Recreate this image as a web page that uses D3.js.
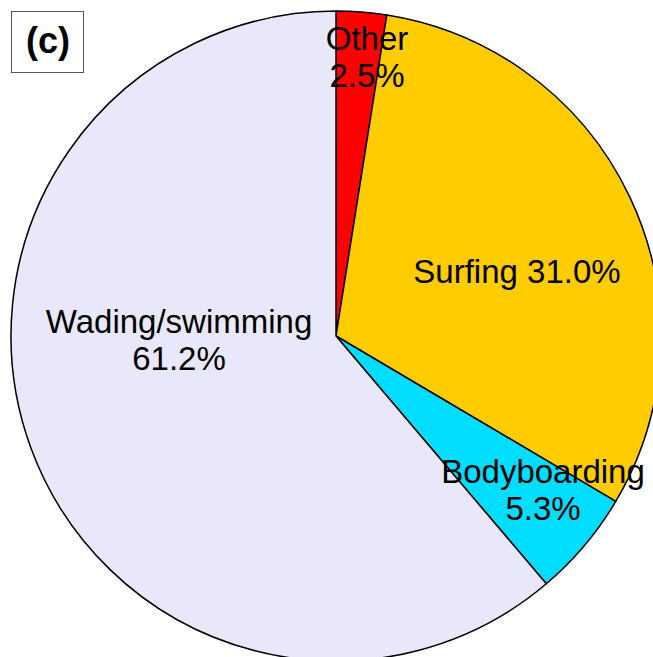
<!DOCTYPE html>
<html>
<meta charset="utf-8"/>
<head>
  <title>Activity pie (c)</title>
  <script src="https://d3js.org/d3.v7.min.js" charset="utf-8"></script>
  <style>
    body { margin: 0; background: #fff; }
    text { font-family: "Liberation Sans", Arial, sans-serif; }
  </style>
</head>
<body>
<script>
// data
var activities = ["Other", "Surfing", "Bodyboarding", "Wading/swimming"];
var shares = [2.5, 31.0, 5.3, 61.2];
var colors = ["#ff0000", "#ffcc00", "#00ddff", "#e8e8fa"];
// label lines (two-line labels split in two)
var labelLines = [["Other", "2.5%"], ["Surfing 31.0%"], ["Bodyboarding", "5.3%"], ["Wading/swimming", "61.2%"]];
// label anchor, offset from pie centre (first baseline)
var labelOffsets = [[31, -286], [181, -53], [207, 147], [-157, -3]];

var width = 653, height = 657,
    cx = 336, cy = 336, radius = 325,
    fontSize = 33, lineGap = 37;

var svg = d3.select("body").append("svg")
    .attr("width", width)
    .attr("height", height);

var pie = d3.pie().sort(null).value(function(d) { return d; });
var arc = d3.arc().innerRadius(0).outerRadius(radius);

var g = svg.append("g")
    .attr("transform", "translate(" + cx + "," + cy + ")");

g.selectAll("path.slice")
  .data(pie(shares))
  .enter().append("path")
  .attr("class", "slice")
  .attr("d", arc)
  .attr("fill", function(d, i) { return colors[i]; })
  .attr("stroke", "#000")
  .attr("stroke-width", 1.5)
  .attr("stroke-linejoin", "round");

// labels
for (var i = 0; i < activities.length; i++) {
  var t = g.append("text")
    .attr("text-anchor", "middle")
    .attr("font-size", fontSize)
    .attr("fill", "#000");
  labelLines[i].forEach(function(line, k) {
    t.append("tspan")
      .attr("x", labelOffsets[i][0])
      .attr("y", labelOffsets[i][1] + k * lineGap)
      .text(line);
  });
}

// panel tag
svg.append("rect")
  .attr("x", 11.5).attr("y", 11.5)
  .attr("width", 72).attr("height", 61)
  .attr("fill", "#fff")
  .attr("stroke", "#555")
  .attr("stroke-width", 1);
svg.append("text")
  .attr("x", 48).attr("y", 53)
  .attr("text-anchor", "middle")
  .attr("font-size", 36)
  .attr("font-weight", "bold")
  .text("(c)");
</script>
</body>
</html>
